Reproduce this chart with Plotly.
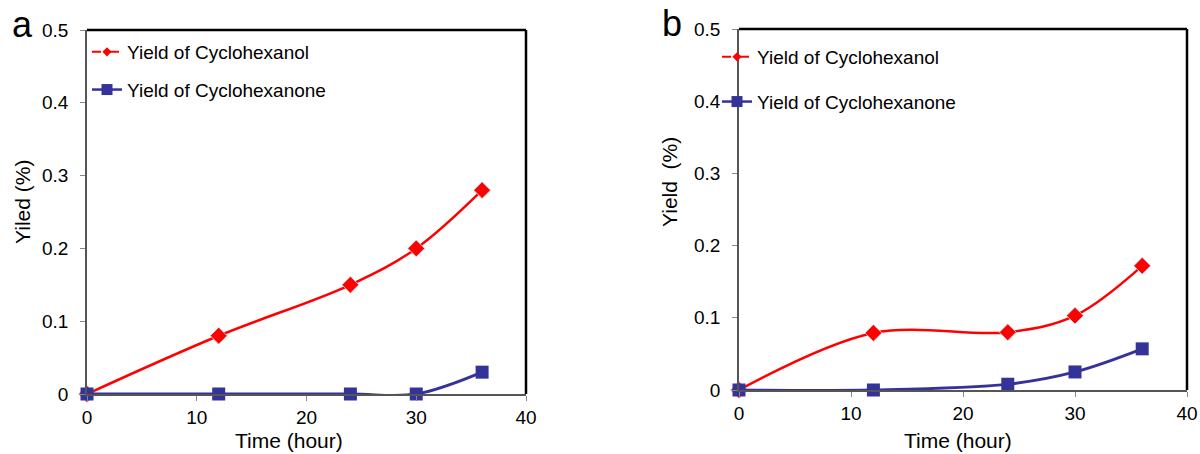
import plotly.graph_objects as go

# ---------------- data ----------------
time_h = [0, 12, 24, 30, 36]
a_cyclohexanol = [0, 0.08, 0.15, 0.20, 0.28]
a_cyclohexanone = [0, 0, 0, 0, 0.03]
b_cyclohexanol = [0, 0.079, 0.08, 0.103, 0.172]
b_cyclohexanone = [0, 0, 0.008, 0.025, 0.057]
x_ticks = [0, 10, 20, 30, 40]
y_ticks = [0, 0.1, 0.2, 0.3, 0.4, 0.5]
series_names = ["Yield of Cyclohexanol", "Yield of Cyclohexanone"]
panel_labels = ["a", "b"]
y_titles = ["Yiled (%)", "Yield  (%)"]
x_title = "Time (hour)"

RED = "#FF0000"
BLUE = "#333399"
FONT = "Liberation Sans, Arial, sans-serif"
W, H = 1200, 454

fig = go.Figure()

panels = [
    dict(xa="x", ya="y", leg="legend", red=a_cyclohexanol, blue=a_cyclohexanone),
    dict(xa="x2", ya="y2", leg="legend2", red=b_cyclohexanol, blue=b_cyclohexanone),
]

for i, p in enumerate(panels):
    fig.add_trace(go.Scatter(
        x=time_h, y=p["red"], mode="lines+markers", showlegend=False,
        line=dict(color=RED, width=2.5, shape="spline"),
        marker=dict(symbol="diamond", size=13, color=RED,
                    line=dict(color="#cfe6ee", width=0.8)),
        cliponaxis=False, xaxis=p["xa"], yaxis=p["ya"]))
    fig.add_trace(go.Scatter(
        x=time_h, y=p["blue"], mode="lines+markers", showlegend=False,
        line=dict(color=BLUE, width=2.8, shape="spline"),
        marker=dict(symbol="square", size=13, color=BLUE),
        cliponaxis=False, xaxis=p["xa"], yaxis=p["ya"]))
    # legend entries
    fig.add_trace(go.Scatter(
        x=[None], y=[None], mode="lines+markers", name=series_names[0],
        line=dict(color=RED, width=2, dash="dash"),
        marker=dict(symbol="diamond", size=7, color=RED),
        legend=p["leg"], legendgroup=f"r{i}", xaxis=p["xa"], yaxis=p["ya"]))
    fig.add_trace(go.Scatter(
        x=[None], y=[None], mode="lines+markers", name=series_names[1],
        line=dict(color=BLUE, width=2.5),
        marker=dict(symbol="square", size=11, color=BLUE),
        legend=p["leg"], legendgroup=f"b{i}", xaxis=p["xa"], yaxis=p["ya"]))

common_axis = dict(
    showgrid=False, zeroline=False, showline=True, linecolor="#555",
    linewidth=1.5, ticks="outside", ticklen=5, tickwidth=1, tickcolor="#888",
    tickfont=dict(family=FONT, size=19, color="black"), automargin=False,
)

xdom = [[87 / W, 526 / W], [739 / W, 1187 / W]]
ydom = [[(H - 394) / H, (H - 30) / H], [(H - 390) / H, (H - 29) / H]]

fig.update_layout(
    xaxis=dict(domain=xdom[0], range=[0, 40], tickvals=x_ticks, anchor="y",
               ticklabelstandoff=0, **common_axis),
    yaxis=dict(domain=ydom[0], range=[0, 0.5], tickvals=y_ticks, anchor="x",
               ticklabelstandoff=8, **common_axis),
    xaxis2=dict(domain=xdom[1], range=[0, 40], tickvals=x_ticks, anchor="y2",
                ticklabelstandoff=0, **common_axis),
    yaxis2=dict(domain=ydom[1], range=[0, 0.5], tickvals=y_ticks, anchor="x2",
                ticklabelstandoff=8, **common_axis),
)

# top/right black frame
shapes = []
for xa, ya in [("x", "y"), ("x2", "y2")]:
    shapes.append(dict(type="line", xref=f"{xa} domain", yref=f"{ya} domain",
                       x0=0, x1=1, y0=1, y1=1, line=dict(color="black", width=2.5)))
    shapes.append(dict(type="line", xref=f"{xa} domain", yref=f"{ya} domain",
                       x0=1, x1=1, y0=0, y1=1, line=dict(color="black", width=2.5)))

annotations = [
    dict(text=panel_labels[0], x=22 / W, y=1 - 25 / H, xref="paper", yref="paper",
         showarrow=False, font=dict(family=FONT, size=36, color="black"),
         xanchor="center", yanchor="middle"),
    dict(text=panel_labels[1], x=672 / W, y=1 - 24 / H, xref="paper", yref="paper",
         showarrow=False, font=dict(family=FONT, size=36, color="black"),
         xanchor="center", yanchor="middle"),
    dict(text=x_title, x=289 / W, y=1 - 440 / H, xref="paper", yref="paper",
         showarrow=False, font=dict(family=FONT, size=21, color="black"),
         xanchor="center", yanchor="middle"),
    dict(text=x_title, x=958 / W, y=1 - 440 / H, xref="paper", yref="paper",
         showarrow=False, font=dict(family=FONT, size=21, color="black"),
         xanchor="center", yanchor="middle"),
    dict(text=y_titles[0], x=22 / W, y=1 - 202 / H, xref="paper", yref="paper",
         showarrow=False, textangle=-90, font=dict(family=FONT, size=21, color="black"),
         xanchor="center", yanchor="middle"),
    dict(text=y_titles[1], x=669 / W, y=1 - 182 / H, xref="paper", yref="paper",
         showarrow=False, textangle=-90, font=dict(family=FONT, size=21, color="black"),
         xanchor="center", yanchor="middle"),
]

legend_common = dict(
    xanchor="left", yanchor="top", bgcolor="rgba(0,0,0,0)", borderwidth=0,
    font=dict(family=FONT, size=19, color="black"), itemwidth=30,
    traceorder="grouped", itemclick=False, itemdoubleclick=False,
)

fig.update_layout(
    width=W, height=H, margin=dict(l=0, r=0, t=0, b=0),
    paper_bgcolor="white", plot_bgcolor="white",
    shapes=shapes, annotations=annotations,
    legend=dict(x=(129 - 42) / W, y=1 - 33 / H, tracegroupgap=10, **legend_common),
    legend2=dict(x=(759 - 42) / W, y=1 - 38 / H, tracegroupgap=17, **legend_common),
)

fig.write_html("out.html", config={"displayModeBar": False},
               post_script="document.body.style.margin='0';document.body.style.overflow='hidden';")
